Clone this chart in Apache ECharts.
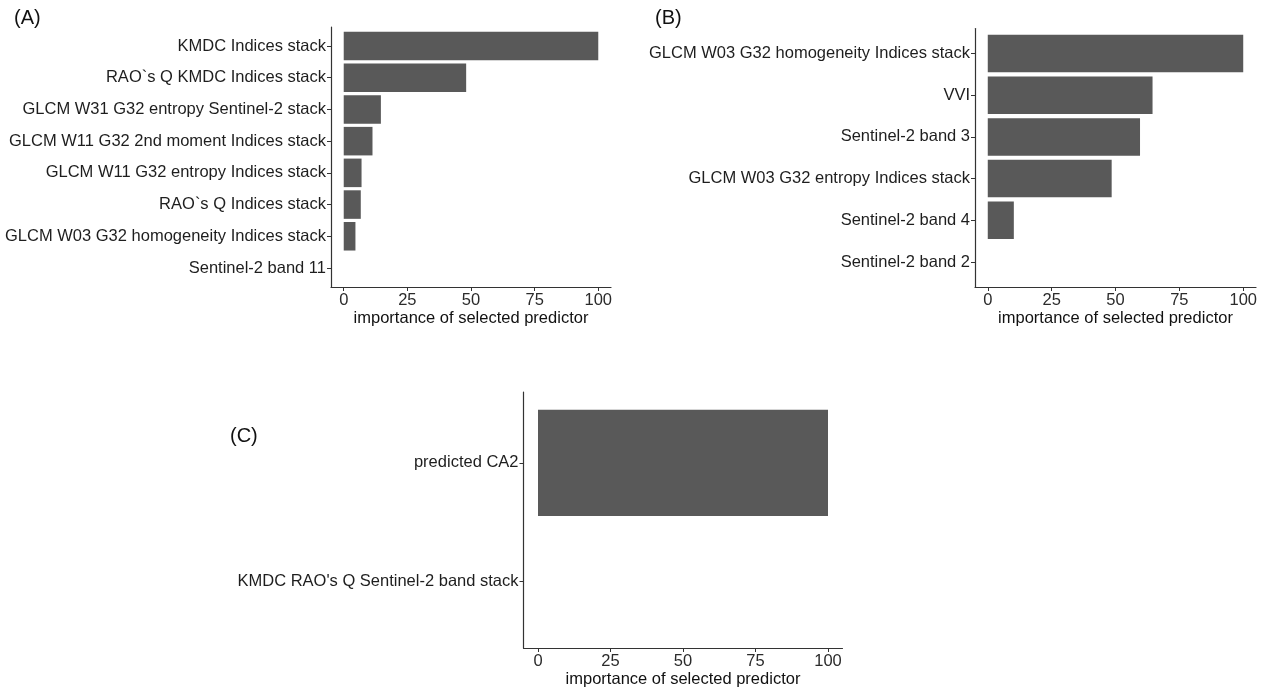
<!DOCTYPE html>
<html><head><meta charset="utf-8">
<script src="https://cdn.jsdelivr.net/npm/echarts@6/dist/echarts.min.js"></script>
<style>html,body{margin:0;padding:0;background:#fff}#c{width:1266px;height:689px}</style>
</head><body><div id="c"></div>
<script>
const catsA = ["KMDC Indices stack","RAO`s Q KMDC Indices stack","GLCM W31 G32 entropy Sentinel-2 stack","GLCM W11 G32 2nd moment Indices stack","GLCM W11 G32 entropy Indices stack","RAO`s Q Indices stack","GLCM W03 G32 homogeneity Indices stack","Sentinel-2 band 11"];
const valsA = [100, 48.1, 14.6, 11.3, 7.0, 6.7, 4.6, 0];
const catsB = ["GLCM W03 G32 homogeneity Indices stack","VVI","Sentinel-2 band 3","GLCM W03 G32 entropy Indices stack","Sentinel-2 band 4","Sentinel-2 band 2"];
const valsB = [100, 64.5, 59.6, 48.5, 10.2, 0];
const catsC = ["predicted CA2","KMDC RAO's Q Sentinel-2 band stack"];
const valsC = [100, 0];
const xTicks = [0, 25, 50, 75, 100];
const axisTitle = "importance of selected predictor";
const panelLabels = ["(A)", "(B)", "(C)"];

const FONT = "Liberation Sans, Arial, sans-serif";
const FS = 16.5;
const barColor = "#595959";

const panels = [
  {cats: catsA, vals: valsA, left: 331, top: 27, width: 280, height: 260},
  {cats: catsB, vals: valsB, left: 975, top: 28.5, width: 281, height: 258.5},
  {cats: catsC, vals: valsC, left: 523.5, top: 392, width: 319, height: 260}
];

const grid = [], xAxis = [], yAxis = [], series = [];
panels.forEach((p, i) => {
  const n = p.cats.length;
  const unit = p.height / (n + 0.2);
  grid.push({left: p.left, top: p.top, width: p.width, height: p.height, containLabel: false});
  grid.push({left: p.left, top: p.top + 0.1 * unit, width: p.width, height: n * unit, containLabel: false});
  const fg = 2 * i, dg = 2 * i + 1;
  xAxis.push({
    gridIndex: fg, type: 'value', min: -5, max: 105,
    splitLine: {show: false},
    axisLine: {show: true, onZero: false, lineStyle: {color: '#333', width: 1.2}},
    axisTick: {show: true, length: 4, customValues: xTicks, lineStyle: {color: '#333'}},
    axisLabel: {show: true, customValues: xTicks, margin: 5, color: '#2b2b2b', fontSize: FS, fontFamily: FONT},
    name: axisTitle, nameLocation: 'middle', nameGap: 23,
    nameTextStyle: {color: '#111', fontSize: FS, fontFamily: FONT}
  });
  yAxis.push({
    gridIndex: fg, type: 'value', min: 0, max: 1,
    splitLine: {show: false},
    axisLine: {show: true, onZero: false, lineStyle: {color: '#333', width: 1.2}},
    axisTick: {show: false}, axisLabel: {show: false}
  });
  xAxis.push({
    gridIndex: dg, type: 'value', min: -5, max: 105, show: false, splitLine: {show: false},
    axisLine: {onZero: false}
  });
  yAxis.push({
    gridIndex: dg, type: 'category', data: p.cats, inverse: true,
    axisLine: {show: false, onZero: false},
    axisTick: {show: true, alignWithLabel: true, length: 4, lineStyle: {color: '#333'}},
    axisLabel: {margin: 5, color: '#1e1e1e', fontSize: FS, fontFamily: FONT}
  });
  series.push({
    type: 'bar', xAxisIndex: dg, yAxisIndex: dg,
    data: p.vals, barCategoryGap: '10%',
    itemStyle: {color: barColor},
    silent: true
  });
});

const chart = echarts.init(document.getElementById('c'), null, {renderer: 'canvas'});
chart.setOption({
  backgroundColor: '#fff',
  animation: false,
  grid, xAxis, yAxis, series,
  graphic: [
    {type: 'text', left: 14, top: 8, style: {text: panelLabels[0], font: '20px ' + FONT, fill: '#111'}},
    {type: 'text', left: 655, top: 8, style: {text: panelLabels[1], font: '20px ' + FONT, fill: '#111'}},
    {type: 'text', left: 230, top: 426, style: {text: panelLabels[2], font: '20px ' + FONT, fill: '#111'}}
  ]
});
</script>
</body></html>
